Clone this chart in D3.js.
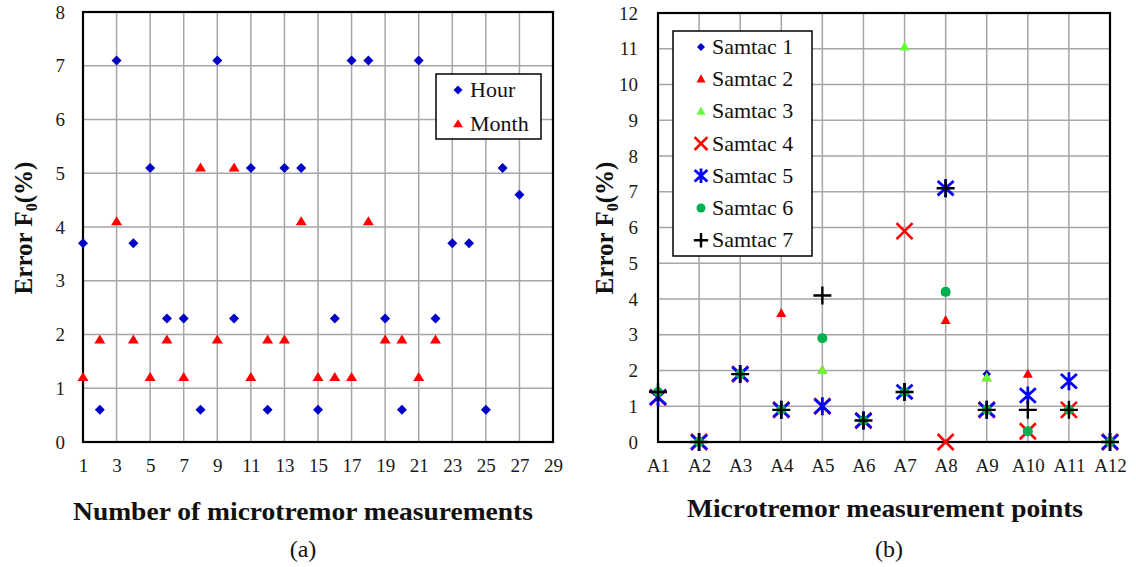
<!DOCTYPE html>
<html>
<head>
<meta charset="utf-8">
<script src="https://d3js.org/d3.v7.min.js"></script>
<style>
  body { margin: 0; background: #fff; }
</style>
</head>
<body>
<svg id="mysvg" width="1136" height="567"></svg>
<script>
    // ---- data (a) ----
    var measureNo = [1, 2, 3, 4, 5, 6, 7, 8, 9, 10, 11, 12, 13, 14, 15, 16, 17, 18, 19, 20, 21, 22, 23, 24, 25, 26, 27];
    var hourVals = [3.7, 0.6, 7.1, 3.7, 5.1, 2.3, 2.3, 0.6, 7.1, 2.3, 5.1, 0.6, 5.1, 5.1, 0.6, 2.3, 7.1, 7.1, 2.3, 0.6, 7.1, 2.3, 3.7, 3.7, 0.6, 5.1, 4.6];
    var monthVals = [1.2, 1.9, 4.1, 1.9, 1.2, 1.9, 1.2, 5.1, 1.9, 5.1, 1.2, 1.9, 1.9, 4.1, 1.2, 1.2, 1.2, 4.1, 1.9, 1.9, 1.2, 1.9];
    var xTicksA = [1, 3, 5, 7, 9, 11, 13, 15, 17, 19, 21, 23, 25, 27, 29];
    var yTicksA = [0, 1, 2, 3, 4, 5, 6, 7, 8];

    // ---- data (b) ----
    var points = ["A1", "A2", "A3", "A4", "A5", "A6", "A7", "A8", "A9", "A10", "A11", "A12"];
    var samtac1 = [1.4, 0, 1.9, 0.9, 2.9, 0.6, 1.4, 4.2, 1.9, 0.3, 0.9, 0];
    var samtac2 = [1.4, 0, 1.9, 3.6, 2.0, 0.6, 1.4, 3.4, 1.8, 1.9, 0.9, 0];
    var samtac3 = [1.4, 0, 1.9, 0.9, 2.0, 0.6, 11.05, 4.2, 1.8, 0.3, 0.9, 0];
    var samtac4 = [1.25, 0, 1.9, 0.9, 1.0, 0.6, 5.9, 0, 0.9, 0.3, 0.9, 0];
    var samtac5 = [1.25, 0, 1.9, 0.9, 1.0, 0.6, 1.4, 7.1, 0.9, 1.3, 1.7, 0];
    var samtac6 = [1.4, 0, 1.9, 0.9, 2.9, 0.6, 1.4, 4.2, 0.9, 0.3, 0.9, 0];
    var samtac7 = [1.4, 0, 1.9, 0.9, 4.1, 0.6, 1.4, 7.1, 0.9, 0.9, 0.9, 0];
    var yTicksB = [0, 1, 2, 3, 4, 5, 6, 7, 8, 9, 10, 11, 12];

    var svg = d3.select("svg");
    var serif = "'Liberation Serif', 'DejaVu Serif', 'Times New Roman', serif";
    var gridColor = "#a6a6a6";
    var tickColor = "#1a1a1a";

    // marker drawing
    function marker(g, type, x, y, s) {
        s = s || 1;
        if (type == "diamond") {
            var r = 5 * s;
            g.append("path").attr("d", "M" + x + "," + (y - r) + "L" + (x + r) + "," + y + "L" + x + "," + (y + r) + "L" + (x - r) + "," + y + "Z")
                .attr("fill", "#0000c8");
        } else if (type == "tri" || type == "triS" || type == "triG") {
            var w = (type == "tri" ? 11 : 10) * s, h = 9 * s;
            g.append("path").attr("d", "M" + x + "," + (y - h * 0.6) + "L" + (x + w / 2) + "," + (y + h * 0.4) + "L" + (x - w / 2) + "," + (y + h * 0.4) + "Z")
                .attr("fill", type == "triG" ? "#66ff33" : "#ff0000");
        } else if (type == "x") {
            var a = 8 * s;
            g.append("path").attr("d", "M" + (x - a) + "," + (y - a) + "L" + (x + a) + "," + (y + a) + "M" + (x + a) + "," + (y - a) + "L" + (x - a) + "," + (y + a))
                .attr("stroke", "#ff0000").attr("stroke-width", 2.6).attr("fill", "none");
        } else if (type == "star") {
            var a = 8 * s, v = 9 * s;
            g.append("path").attr("d", "M" + (x - a) + "," + (y - a * 0.9) + "L" + (x + a) + "," + (y + a * 0.9) + "M" + (x + a) + "," + (y - a * 0.9) + "L" + (x - a) + "," + (y + a * 0.9) + "M" + x + "," + (y - v) + "L" + x + "," + (y + v))
                .attr("stroke", "#0000ff").attr("stroke-width", 2.8).attr("fill", "none");
        } else if (type == "circle") {
            g.append("circle").attr("cx", x).attr("cy", y).attr("r", 5 * s).attr("fill", "#00b050");
        } else if (type == "plus") {
            var a = 9 * s;
            g.append("path").attr("d", "M" + (x - a) + "," + y + "L" + (x + a) + "," + y + "M" + x + "," + (y - a) + "L" + x + "," + (y + a))
                .attr("stroke", "#000").attr("stroke-width", 2.4).attr("fill", "none");
        }
    }

    function label(x, y, txt, size, opts) {
        opts = opts || {};
        var t = svg.append("text").attr("x", x).attr("y", y)
            .attr("text-anchor", opts.anchor || "start")
            .style("font-family", serif).style("font-size", size + "px")
            .style("font-weight", opts.bold ? "bold" : "normal")
            .attr("fill", "#111").text(txt);
        if (opts.len) t.attr("textLength", opts.len).attr("lengthAdjust", "spacingAndGlyphs");
        return t;
    }

    function yTitle(x, y) {
        var t = svg.append("text")
            .attr("transform", "translate(" + x + "," + y + ") rotate(-90)")
            .attr("text-anchor", "middle")
            .style("font-family", serif).style("font-size", "25px").style("font-weight", "bold").attr("fill", "#111");
        t.append("tspan").text("Error F");
        t.append("tspan").style("font-size", "16px").attr("dy", 5).text("0");
        t.append("tspan").attr("dy", -5).text("(%)");
    }

    function styleAxis(ax) {
        ax.select(".domain").remove();
        ax.selectAll("text").style("font-size", "19px").style("font-family", serif).attr("fill", tickColor);
    }

    // ===================== chart (a) =====================
    var A = { left: 83, right: 553, top: 12, bottom: 442 };
    var xA = d3.scaleLinear().domain([1, 29]).range([A.left, A.right]);
    var yA = d3.scaleLinear().domain([0, 8]).range([A.bottom, A.top]);

    var ga = svg.append("g");
    ga.selectAll(".vg").data(xTicksA).enter().append("line")
        .attr("x1", d => xA(d)).attr("x2", d => xA(d)).attr("y1", A.top).attr("y2", A.bottom)
        .attr("stroke", gridColor).attr("stroke-width", 1.5);
    ga.selectAll(".hg").data(yTicksA).enter().append("line")
        .attr("x1", A.left).attr("x2", A.right).attr("y1", d => yA(d)).attr("y2", d => yA(d))
        .attr("stroke", gridColor).attr("stroke-width", 1.5);
    ga.append("rect").attr("x", A.left).attr("y", A.top).attr("width", A.right - A.left).attr("height", A.bottom - A.top)
        .attr("fill", "none").attr("stroke", "#000").attr("stroke-width", 2.2);

    var axA = ga.append("g").attr("transform", "translate(0," + A.bottom + ")")
        .call(d3.axisBottom(xA).tickValues(xTicksA).tickSize(0).tickPadding(17).tickFormat(d3.format("d")));
    var ayA = ga.append("g").attr("transform", "translate(" + A.left + ",0)")
        .call(d3.axisLeft(yA).tickValues(yTicksA).tickSize(0).tickPadding(18).tickFormat(d3.format("d")));
    styleAxis(axA);
    styleAxis(ayA);

    var pa = ga.append("g");
    monthVals.forEach(function (v, i) { marker(pa, "tri", xA(measureNo[i]), yA(v)); });
    hourVals.forEach(function (v, i) { marker(pa, "diamond", xA(measureNo[i]), yA(v)); });

    // legend (a)
    ga.append("rect").attr("x", 436).attr("y", 74).attr("width", 105).attr("height", 65)
        .attr("fill", "#fff").attr("stroke", "#000").attr("stroke-width", 1.5);
    marker(ga, "diamond", 458, 90, 0.9);
    marker(ga, "tri", 458, 124, 0.9);
    label(470, 97, "Hour", 22);
    label(470, 131, "Month", 22);

    yTitle(32, 228);
    label(303, 520, "Number of microtremor measurements", 25, { anchor: "middle", bold: true, len: 460 });
    label(303, 557, "(a)", 24, { anchor: "middle" });

    // ===================== chart (b) =====================
    var B = { left: 658, right: 1110, top: 13, bottom: 442 };
    var xB = d3.scalePoint().domain(points).range([B.left, B.right]).padding(0);
    var yB = d3.scaleLinear().domain([0, 12]).range([B.bottom, B.top]);

    var gb = svg.append("g");
    gb.selectAll(".vg").data(points).enter().append("line")
        .attr("x1", d => xB(d)).attr("x2", d => xB(d)).attr("y1", B.top).attr("y2", B.bottom)
        .attr("stroke", gridColor).attr("stroke-width", 1.5);
    gb.selectAll(".hg").data(yTicksB).enter().append("line")
        .attr("x1", B.left).attr("x2", B.right).attr("y1", d => yB(d)).attr("y2", d => yB(d))
        .attr("stroke", gridColor).attr("stroke-width", 1.5);
    gb.append("rect").attr("x", B.left).attr("y", B.top).attr("width", B.right - B.left).attr("height", B.bottom - B.top)
        .attr("fill", "none").attr("stroke", "#000").attr("stroke-width", 2.2);

    var axB = gb.append("g").attr("transform", "translate(0," + B.bottom + ")")
        .call(d3.axisBottom(xB).tickSize(0).tickPadding(17));
    var ayB = gb.append("g").attr("transform", "translate(" + B.left + ",0)")
        .call(d3.axisLeft(yB).tickValues(yTicksB).tickSize(0).tickPadding(20).tickFormat(d3.format("d")));
    styleAxis(axB);
    styleAxis(ayB);

    var seriesB = [
        { name: "Samtac 1", vals: samtac1, type: "diamond", s: 0.85 },
        { name: "Samtac 2", vals: samtac2, type: "triS", s: 1 },
        { name: "Samtac 3", vals: samtac3, type: "triG", s: 1 },
        { name: "Samtac 4", vals: samtac4, type: "x", s: 1 },
        { name: "Samtac 5", vals: samtac5, type: "star", s: 1 },
        { name: "Samtac 6", vals: samtac6, type: "circle", s: 1 },
        { name: "Samtac 7", vals: samtac7, type: "plus", s: 1 }
    ];
    var pb = gb.append("g");
    seriesB.forEach(function (sr) {
        sr.vals.forEach(function (v, i) { marker(pb, sr.type, xB(points[i]), yB(v), sr.s); });
    });

    // legend (b)
    gb.append("rect").attr("x", 673).attr("y", 31).attr("width", 139).attr("height", 225)
        .attr("fill", "#fff").attr("stroke", "#000").attr("stroke-width", 1.5);
    seriesB.forEach(function (sr, i) {
        var ly = 47 + i * 32.2;
        marker(gb, sr.type, 701, ly, sr.type == "circle" || sr.type == "triS" || sr.type == "triG" ? 0.9 : 0.8);
        label(712, ly + 7, sr.name, 22);
    });

    yTitle(613, 228);
    label(885, 517, "Microtremor measurement points", 25, { anchor: "middle", bold: true, len: 396 });
    label(889, 557, "(b)", 24, { anchor: "middle" });
</script>
</body>
</html>
